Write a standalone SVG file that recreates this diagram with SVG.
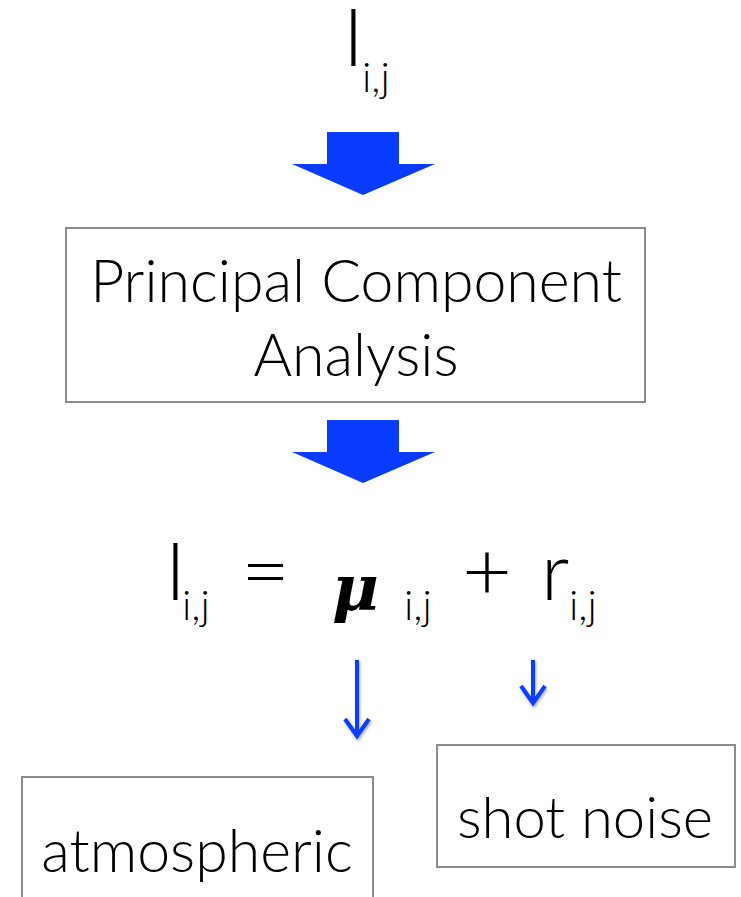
<svg xmlns="http://www.w3.org/2000/svg" width="741" height="897" viewBox="0 0 741 897">
<style>
.t{font-family:Lato,"Open Sans","Liberation Sans",sans-serif;font-weight:300;fill:#000}
.box{fill:#fff;stroke:#8c8c8c;stroke-width:2}
.big{fill:#0a3cff}
.thin{stroke:#0a3cff;stroke-width:4;fill:none}
</style>
<defs>
<filter id="sh" x="-50%" y="-50%" width="200%" height="200%">
<feDropShadow dx="1" dy="2" stdDeviation="1.5" flood-color="#000" flood-opacity="0.35"/>
</filter>
</defs>
<rect width="741" height="897" fill="#fff"/>
<g id="input">
<text class="t" x="343" y="66" font-size="80">I</text>
<text class="t" x="362" y="92" font-size="42">i,j</text>
</g>
<g id="pca">
<rect class="box" x="66" y="228" width="579" height="174"/>
<text class="t" x="356" y="302" font-size="59" text-anchor="middle">Principal Component</text>
<text class="t" x="356" y="376" font-size="59" text-anchor="middle">Analysis</text>
</g>
<g id="equation">
<text class="t" x="165" y="600" font-size="80">I</text>
<text class="t" x="182" y="620" font-size="42">i,j</text>
<text class="t" x="241" y="600" font-size="80" textLength="49" lengthAdjust="spacingAndGlyphs">=</text>
<text x="332" y="610" font-size="64" font-family="'DejaVu Serif','Liberation Serif',serif" font-style="italic" font-weight="bold">μ</text>
<text class="t" x="404" y="620" font-size="42">i,j</text>
<text class="t" x="462" y="600" font-size="80" textLength="50" lengthAdjust="spacingAndGlyphs">+</text>
<text class="t" x="541" y="600" font-size="80">r</text>
<text class="t" x="569" y="620" font-size="42">i,j</text>
</g>
<g id="atmospheric">
<rect class="box" x="22" y="777" width="351" height="130"/>
<text class="t" x="197" y="872" font-size="59" text-anchor="middle">atmospheric</text>
</g>
<g id="shot-noise">
<rect class="box" x="437" y="745" width="298" height="122"/>
<text class="t" x="585" y="838" font-size="58" text-anchor="middle">shot noise</text>
</g>
<g id="connectors">
<path class="big" d="M327 132H399V164H435L363 195L292 164H327Z"/>
<path class="big" d="M327 420H399V452H435L363 483L292 452H327Z"/>
<g filter="url(#sh)">
<path class="thin" d="M357 660V734M345 719L357 736L369 719"/>
<path class="thin" d="M533 660V703M521 686L533 703L545 686"/>
</g>
</g>
</svg>
